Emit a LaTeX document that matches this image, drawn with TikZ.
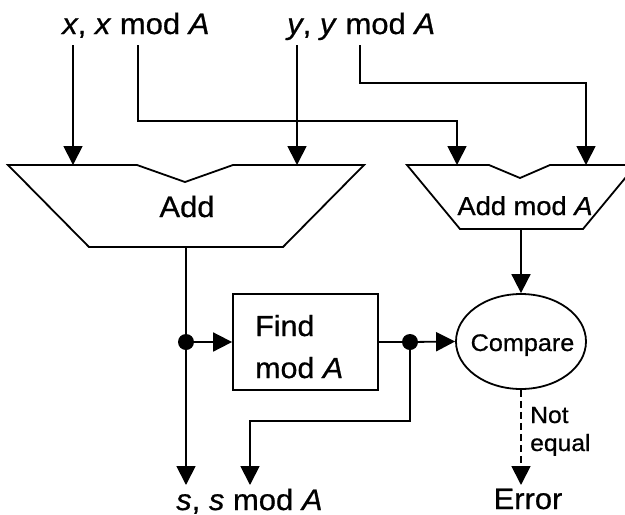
\documentclass[tikz,border=0pt]{standalone}
\usepackage{fontspec}
\setmainfont{Liberation Sans}[FakeStretch=1.05,FakeBold=0.7]
\usetikzlibrary{arrows.meta,shapes.geometric}

\begin{document}
\begin{tikzpicture}[x=1pt,y=-1pt,
  wire/.style={line width=1.8pt},
  flow/.style={wire,-{Triangle[length=19pt,width=19pt]}},
  block/.style={draw,line width=1.8pt,line join=miter},
  junction/.style={circle,fill,inner sep=0pt,minimum size=16pt},
  lbl/.style={inner sep=0pt,font=\fontsize{29.5}{32}\selectfont},
  midlbl/.style={inner sep=0pt,font=\fontsize{26}{28}\selectfont},
  small/.style={inner sep=0pt,font=\fontsize{24}{28}\selectfont}]
\useasboundingbox (0,0) rectangle (625,515);
\clip (0,0) rectangle (625,515);

% operand labels
\node[lbl,anchor=base west] (xin) at (62,34) {\textit{x}, \textit{x} mod \textit{A}};
\node[lbl,anchor=base west] (yin) at (287,34) {\textit{y}, \textit{y} mod \textit{A}};
\coordinate (xs)  at (73,45);
\coordinate (xms) at (138,45);
\coordinate (ys)  at (297,45);
\coordinate (yms) at (360,45);

% adder
\draw[block] (8,165) -- (137,165) -- (185,182) -- (233,165) -- (364,165)
  -- (283,247) -- (89,247) -- cycle;
\node[lbl,anchor=base] (addlbl) at (187,217) {Add};
\coordinate (addA) at (73,165);
\coordinate (addB) at (297,165);
\coordinate (addOut) at (186,247);

% modular adder
\draw[block] (407,165) -- (489,165) -- (520,178) -- (550,165) -- (636,165)
  -- (583,229) -- (460,229) -- cycle;
\node[midlbl,anchor=base] (amlbl) at (525,215) {Add mod \textit{A}};
\coordinate (amA) at (457,165);
\coordinate (amB) at (586,165);
\coordinate (amOut) at (521,229);

% residue unit
\node[block,minimum width=145pt,minimum height=96pt,inner sep=0pt] (find) at (305.5,342) {};
\node[inner sep=0pt,font=\fontsize{29}{32}\selectfont,anchor=base west] (findA) at (255,336) {Find};
\node[inner sep=0pt,font=\fontsize{29}{32}\selectfont,anchor=base west] (findB) at (255,378) {mod \textit{A}};

% comparator
\node[draw,ellipse,line width=1.8pt,minimum width=130pt,minimum height=95pt,inner sep=0pt] (cmp) at (521,341.5) {};
\node[small,anchor=base] (cmplbl) at (522.5,351) {Compare};

% outputs
\coordinate (sOut)  at (186,485);
\coordinate (smOut) at (250,485);
\coordinate (errIn) at (521,485);
\coordinate (xbend) at (457,121);
\coordinate (ybend) at (586,83);
\coordinate (sbend) at (250,421);

% wiring
\draw[flow] (xs) -- (addA);
\draw[flow] (ys) -- (addB);
\draw[flow] (xms) |- (xbend) -- (amA);
\draw[flow] (yms) |- (ybend) -- (amB);
\draw[flow] (addOut) -- (sOut);
\node[junction] (j1) at (186,342) {};
\node[junction] (j2) at (410,342) {};
\draw[flow] (j1) -- (find.west);
\draw[wire] (find.east) -- (j2);
\draw[flow] (j2) -- (cmp.west);
\draw[flow] (j2.center) |- (sbend) -- (smOut);
\draw[flow] (amOut) -- (cmp.north);
\draw[wire,dash pattern=on 7pt off 4pt,-{Triangle[length=19pt,width=19pt]}] (cmp.south) -- (errIn);

\node[small,anchor=base west,font=\fontsize{23.5}{28}\selectfont] (notlbl) at (530,423) {Not};
\node[small,anchor=base west,font=\fontsize{23.5}{28}\selectfont] (eqlbl) at (530,451) {equal};
\node[lbl,anchor=base] (err) at (528,509) {Error};
\node[lbl,anchor=base west] (sl) at (176,510) {\textit{s}, \textit{s} mod \textit{A}};
\end{tikzpicture}
\end{document}
